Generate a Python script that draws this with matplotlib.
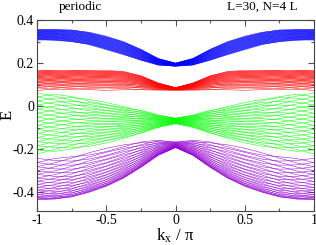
import numpy as np
import matplotlib
matplotlib.use("Agg")
import matplotlib.pyplot as plt
from matplotlib.ticker import MultipleLocator

kx = [-1.0, -0.875, -0.75, -0.625, -0.5, -0.375, -0.25, -0.125, 0.0,
      0.125, 0.25, 0.375, 0.5, 0.625, 0.75, 0.875, 1.0]

blue_top = [0.357, 0.357, 0.355, 0.344, 0.325, 0.300, 0.265, 0.222, 0.200,
            0.222, 0.265, 0.300, 0.325, 0.344, 0.355, 0.357, 0.357]
blue_bot = [0.307, 0.305, 0.298, 0.285, 0.262, 0.238, 0.212, 0.190, 0.185,
            0.190, 0.212, 0.238, 0.262, 0.285, 0.298, 0.305, 0.307]

red_top = [0.167, 0.167, 0.167, 0.167, 0.166, 0.162, 0.142, 0.108, 0.086,
           0.108, 0.142, 0.162, 0.166, 0.167, 0.167, 0.167, 0.167]
red_bot = [0.071, 0.071, 0.071, 0.071, 0.071, 0.071, 0.071, 0.072, 0.073,
           0.072, 0.071, 0.071, 0.071, 0.071, 0.071, 0.071, 0.071]

green_top = [0.062, 0.060, 0.050, 0.035, 0.018, 0.000, -0.017, -0.040, -0.055,
             -0.040, -0.017, 0.000, 0.018, 0.035, 0.050, 0.060, 0.062]
green_bot = [-0.222, -0.215, -0.205, -0.190, -0.172, -0.152, -0.128, -0.100, -0.082,
             -0.100, -0.128, -0.152, -0.172, -0.190, -0.205, -0.215, -0.222]

violet_top = [-0.242, -0.238, -0.228, -0.212, -0.194, -0.176, -0.162, -0.156, -0.166,
              -0.156, -0.162, -0.176, -0.194, -0.212, -0.228, -0.238, -0.242]
violet_bot = [-0.434, -0.432, -0.422, -0.400, -0.372, -0.334, -0.284, -0.228, -0.192,
              -0.228, -0.284, -0.334, -0.372, -0.400, -0.422, -0.432, -0.434]

n_lines = 30  # L = 30 transverse momenta per band

x_ticks = [-1, -0.5, 0, 0.5, 1]
x_tick_labels = ["-1", "-0.5", "0", "0.5", "1"]
y_ticks = [-0.4, -0.2, 0, 0.2, 0.4]
y_tick_labels = ["-0.4", "-0.2", "0", "0.2", "0.4"]

bands = [
    (blue_top, blue_bot, "#0000ff", 1.0),
    (red_top, red_bot, "#ff0000", 0.7),
    (green_top, green_bot, "#00ff00", 1.0),
    (violet_top, violet_bot, "#9400d3", 1.6),
]

plt.rcParams['font.family'] = ['Liberation Serif', 'DejaVu Serif']
plt.rcParams['mathtext.fontset'] = 'stix'

fig = plt.figure(figsize=(3.16, 2.45), dpi=100)
ax = fig.add_axes([37/316, 1-211/245, 277/316, 191/245])

k = np.array(kx)
wobble = 0.4 * np.sin(np.pi * k)
for top, bot, col, gam in bands:
    top = np.array(top); bot = np.array(bot)
    for n in range(n_lines):
        phi = 2*np.pi*n/n_lines + wobble
        wrapped = (phi + np.pi) % (2*np.pi) - np.pi
        s = (1 - np.abs(wrapped)/np.pi) ** gam
        ax.plot(k, bot + (top - bot)*s, color=col, lw=0.35)

ax.set_xlim(-1, 1)
ax.set_ylim(-0.487, 0.4)
ax.set_xticks(x_ticks)
ax.set_xticklabels(x_tick_labels)
ax.set_yticks(y_ticks)
ax.set_yticklabels(y_tick_labels)
ax.xaxis.set_minor_locator(MultipleLocator(0.25))
ax.yaxis.set_minor_locator(MultipleLocator(0.1))
ax.tick_params(which='both', direction='in', top=True, right=True,
               labelsize=10, color='#555555', width=0.8, pad=2)
ax.tick_params(which='major', length=4)
ax.tick_params(which='minor', length=2.5)
for sp in ax.spines.values():
    sp.set_linewidth(0.8)
    sp.set_color('#444444')

ax.set_xlabel(r"k$_\mathregular{x}$ / π", fontsize=12, labelpad=0)
fig.text(8/316, 1-115/245, "E", rotation=90, ha='center', va='center', fontsize=12)
fig.text(80/316, 1-7/245, "periodic", ha='center', va='center', fontsize=9.5)
fig.text(262/316, 1-7/245, "L=30, N=4 L", ha='center', va='center', fontsize=9.5)

fig.savefig("out.png", dpi=100)
